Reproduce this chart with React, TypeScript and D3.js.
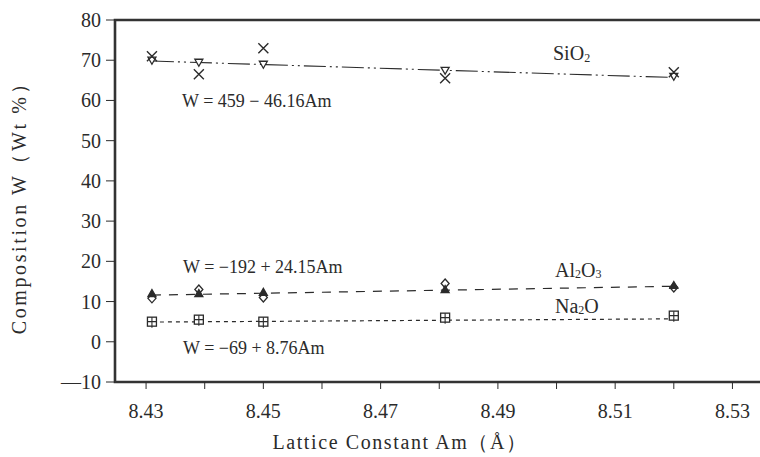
import React from "react";
import * as d3 from "d3";

const latticeX = [8.431, 8.439, 8.45, 8.481, 8.52];
const sio2Cross = [71, 66.5, 73, 65.5, 67];
const sio2Tri = [70, 69.5, 69, 67.5, 66];
const al2o3Diamond = [10.8, 13, 11, 14.5, 13.5];
const al2o3Tri = [12, 12, 12.3, 13, 14];
const na2oSquare = [5, 5.5, 5, 6, 6.5];
const fitX = [8.431, 8.52];
const sio2Fit = [69.8, 65.7];
const al2o3Fit = [11.6, 13.8];
const na2oFit = [4.9, 5.7];
const yTicks = [-10, 0, 10, 20, 30, 40, 50, 60, 70, 80];
const xMajor = [8.43, 8.45, 8.47, 8.49, 8.51, 8.53];
const xMinor = [8.44, 8.46, 8.48, 8.5, 8.52];

const W = 760, H = 457;
const L = 115, T = 20, B = 382, R = 768;
const ink = "#2b2b2b";
const font = "'Liberation Serif', 'DejaVu Serif', serif";

export default function App() {
  const x = d3.scaleLinear().domain([8.4247, 8.5347]).range([L, 760]);
  const y = d3.scaleLinear().domain([-10, 80]).range([B, T]);
  const line = d3.line<[number, number]>().x(d => x(d[0])).y(d => y(d[1]));
  const fit = (v: number[]) => line(fitX.map((a, i) => [a, v[i]] as [number, number])) || "";

  const cross = (cx: number, cy: number, k: string) => (
    <path key={k} d={`M${cx - 5},${cy - 5}L${cx + 5},${cy + 5}M${cx - 5},${cy + 5}L${cx + 5},${cy - 5}`} stroke={ink} strokeWidth={1.4} fill="none" />
  );
  const triDown = (cx: number, cy: number, k: string) => (
    <path key={k} d={`M${cx - 4},${cy - 3}L${cx + 4},${cy - 3}L${cx},${cy + 4}Z`} stroke={ink} strokeWidth={1.3} fill="white" />
  );
  const triUp = (cx: number, cy: number, k: string) => (
    <path key={k} d={`M${cx - 4},${cy + 3}L${cx + 4},${cy + 3}L${cx},${cy - 4}Z`} stroke={ink} strokeWidth={1.3} fill={ink} />
  );
  const diamond = (cx: number, cy: number, k: string) => (
    <path key={k} d={`M${cx},${cy - 4.5}L${cx + 4},${cy}L${cx},${cy + 4.5}L${cx - 4},${cy}Z`} stroke={ink} strokeWidth={1.3} fill="white" />
  );
  const square = (cx: number, cy: number, k: string) => (
    <g key={k}>
      <rect x={cx - 4.5} y={cy - 4.5} width={9} height={9} stroke={ink} strokeWidth={1.3} fill="white" />
      <path d={`M${cx - 4.5},${cy}L${cx + 4.5},${cy}M${cx},${cy - 4.5}L${cx},${cy + 6}`} stroke={ink} strokeWidth={1.1} />
    </g>
  );

  return (
    <svg width={W} height={H} style={{ display: "block", position: "absolute", left: 0, top: 0 }} fontFamily={font}>
      <rect width={W} height={H} fill="white" />
      <path d={fit(sio2Fit)} stroke={ink} strokeWidth={1.1} fill="none" strokeDasharray="22,4,2,4,2,4" />
      <path d={fit(al2o3Fit)} stroke={ink} strokeWidth={1.2} fill="none" strokeDasharray="9,8" />
      <path d={fit(na2oFit)} stroke={ink} strokeWidth={1.2} fill="none" strokeDasharray="4,4" />
      {latticeX.map((a, i) => triDown(x(a), y(sio2Tri[i]), "st" + i))}
      {latticeX.map((a, i) => cross(x(a), y(sio2Cross[i]), "sc" + i))}
      {latticeX.map((a, i) => diamond(x(a), y(al2o3Diamond[i]), "ad" + i))}
      {latticeX.map((a, i) => triUp(x(a), y(al2o3Tri[i]), "at" + i))}
      {latticeX.map((a, i) => square(x(a), y(na2oSquare[i]), "ns" + i))}
      <path d={`M${R},${T}L${L},${T}L${L},${B}L${R},${B}`} stroke="#333" strokeWidth={2.6} fill="none" />
      {yTicks.map(v => (
        <g key={"y" + v}>
          <line x1={L - 9} x2={L} y1={y(v)} y2={y(v)} stroke={ink} strokeWidth={1} />
          <text x={101} y={y(v)} dy="0.35em" textAnchor="end" fontSize={20} fill={ink}>
            {v < 0 ? "\u2014" + Math.abs(v) : v}
          </text>
        </g>
      ))}
      {xMajor.map(v => (
        <g key={"x" + v}>
          <line x1={x(v)} x2={x(v)} y1={B} y2={B + 7} stroke={ink} strokeWidth={1} />
          <text x={x(v)} y={418} textAnchor="middle" fontSize={20} fill={ink}>{v.toFixed(2)}</text>
        </g>
      ))}
      {xMinor.map(v => (
        <line key={"m" + v} x1={x(v)} x2={x(v)} y1={B} y2={B + 7} stroke={ink} strokeWidth={1} />
      ))}
      <text x={400} y={449} textAnchor="middle" fontSize={20} fill={ink} letterSpacing={1.6}>Lattice Constant Am（Å）</text>
      <text transform="translate(26,203) rotate(-90)" textAnchor="middle" fontSize={20} fill={ink} letterSpacing={2.6}>Composition W（Wt %）</text>
      <text x={553} y={60} fontSize={20} fill={ink}>SiO<tspan fontSize={12} dy={2}>2</tspan></text>
      <text x={182} y={107} fontSize={18} fill={ink}>W = 459 − 46.16Am</text>
      <text x={183} y={273} fontSize={18} fill={ink}>W = −192 + 24.15Am</text>
      <text x={555} y={277} fontSize={20} fill={ink}>Al<tspan fontSize={12} dy={1}>2</tspan><tspan dy={-1}>O</tspan><tspan fontSize={12} dy={1}>3</tspan></text>
      <text x={555} y={313} fontSize={20} fill={ink}>Na<tspan fontSize={12} dy={1}>2</tspan><tspan dy={-1}>O</tspan></text>
      <text x={183} y={354} fontSize={18} fill={ink}>W = −69 + 8.76Am</text>
    </svg>
  );
}
